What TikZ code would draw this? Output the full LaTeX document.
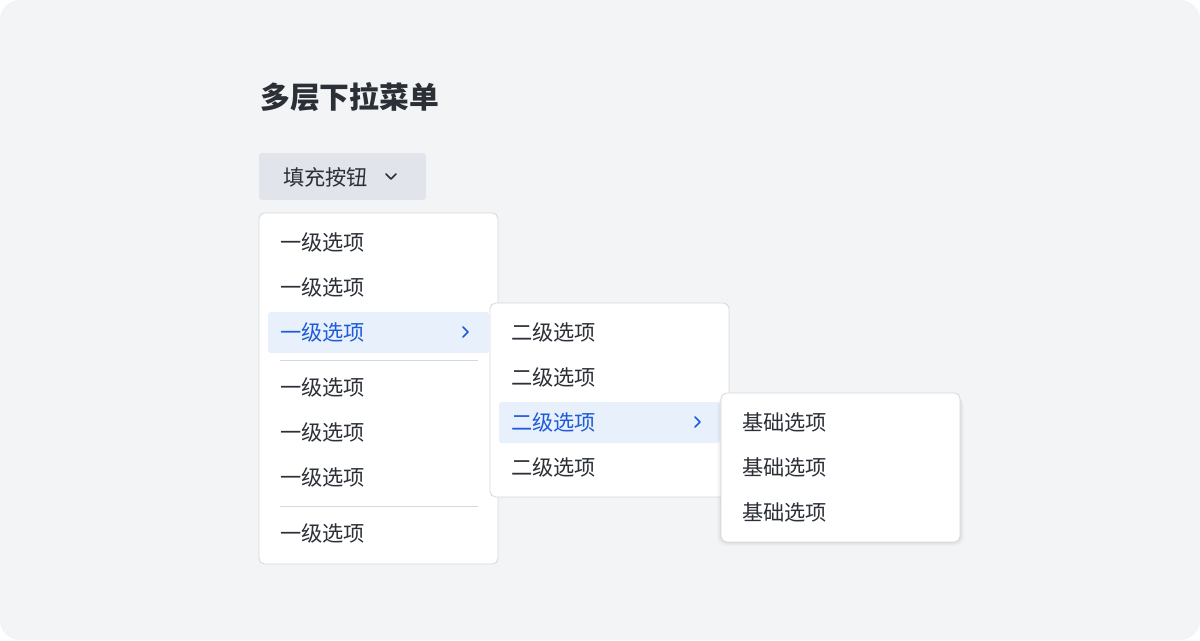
\documentclass[tikz,border=0pt]{standalone}
\usepackage{fontspec}
\setmainfont{Noto Sans CJK SC}
\usetikzlibrary{shadows}
\definecolor{bgc}{HTML}{F3F4F6}
\definecolor{btnc}{HTML}{E1E5EB}
\definecolor{bordc}{HTML}{D5D8DD}
\definecolor{hlc}{HTML}{E8F0FC}
\definecolor{bluec}{HTML}{1E5BD8}
\definecolor{txtc}{HTML}{2B2F36}
\begin{document}
\begin{tikzpicture}[x=0.025cm,y=-0.025cm,
  menu/.style={fill=white,draw=bordc,line width=0.6pt,rounded corners=4pt},
  item/.style={anchor=west,inner sep=0pt,font=\fontsize{15.1pt}{17pt}\selectfont,text=txtc},
  hitem/.style={item,text=bluec},
  hl/.style={fill=hlc,rounded corners=2pt},
  divl/.style={draw=bordc,line width=0.6pt},
  chev/.style={line width=1.1pt,line cap=round,line join=round}]
\useasboundingbox (0,0) rectangle (1200,640);
\fill[white] (0,0) rectangle (1200,640);
\fill[bgc,rounded corners=14pt] (0,0) rectangle (1200,640);
\node[anchor=west,inner sep=0pt,font=\fontsize{21.2pt}{25pt}\selectfont\bfseries,text=txtc] (title) at (260,97) {多层下拉菜单};
% button
\fill[btnc,rounded corners=2pt] (259,153) rectangle (426,200);
\node[item] (btn) at (283,177) {填充按钮};
\coordinate (bc) at (391,177);
\draw[chev,txtc] ([shift={(-5,-3)}]bc) -- ([shift={(0,2)}]bc) -- ([shift={(5,-3)}]bc);
% menu 1
\draw[menu] (259,213) rectangle (498,564);
\fill[hl] (268,312) rectangle (489,353);
\node[item] (a1) at (280,242) {一级选项};
\node[item] (a2) at (280,287) {一级选项};
\node[hitem] (a3) at (280,332) {一级选项};
\coordinate (c1) at (465,332);
\draw[chev,bluec] ([shift={(-2,-5)}]c1) -- ([shift={(3,0)}]c1) -- ([shift={(-2,5)}]c1);
\draw[divl] (280,360) -- (478,360);
\node[item] (a4) at (280,387) {一级选项};
\node[item] (a5) at (280,432) {一级选项};
\node[item] (a6) at (280,477) {一级选项};
\draw[divl] (280,506) -- (478,506);
\node[item] (a7) at (280,533) {一级选项};
% menu 2
\draw[menu] (490,303) rectangle (729,497);
\fill[hl] (499,402) rectangle (720,443);
\node[item] (b1) at (511,332) {二级选项};
\node[item] (b2) at (511,377) {二级选项};
\node[hitem] (b3) at (511,422) {二级选项};
\coordinate (c2) at (697,422);
\draw[chev,bluec] ([shift={(-2,-5)}]c2) -- ([shift={(3,0)}]c2) -- ([shift={(-2,5)}]c2);
\node[item] (b4) at (511,467) {二级选项};
% menu 3
\foreach \i/\o in {1/0.03,2/0.025,3/0.02,4/0.015}
  \fill[black,opacity=\o,rounded corners=6pt] (721-\i,393+\i) rectangle (960+\i,542+\i);
\draw[menu] (721,393) rectangle (960,542);
\node[item] (d1) at (742,422) {基础选项};
\node[item] (d2) at (742,467) {基础选项};
\node[item] (d3) at (742,512) {基础选项};
\end{tikzpicture}
\end{document}
